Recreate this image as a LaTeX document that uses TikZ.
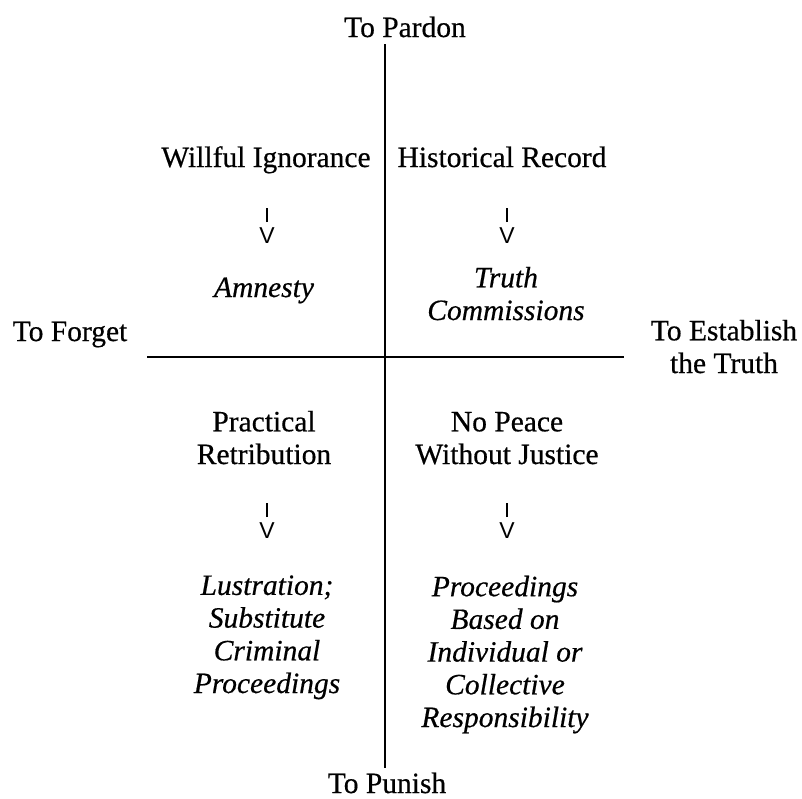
\documentclass[tikz,border=0pt]{standalone}
\usepackage{fontspec}
\setmainfont{Liberation Serif}[FakeBold=0.5]
\newfontfamily\glyphfont{Liberation Sans}
\newcommand{\dnarrow}{\vbox{\offinterlineskip\halign{\hfil##\hfil\cr\rule{1.3pt}{14pt}\cr\noalign{\vskip5pt}V\cr}}}
\tikzset{
  lbl/.style={font=\fontsize{29.5}{32.7}\selectfont, inner sep=0pt, align=center, anchor=base},
  res/.style={lbl, font=\fontsize{29.5}{32.7}\selectfont\itshape},
  arr/.style={font=\glyphfont\fontsize{23}{23}\selectfont, inner sep=0pt, anchor=base},
  axisline/.style={line width=1.3pt, black},
}
\begin{document}
\begin{tikzpicture}[x=1pt, y=-1pt]
\useasboundingbox (0,0) rectangle (802,798);
% axes
\coordinate (vtop) at (385,44);
\coordinate (vbot) at (385,768);
\coordinate (hleft) at (147,357);
\coordinate (hright) at (624,357);
\draw[axisline] (vtop) -- (vbot);
\draw[axisline] (hleft) -- (hright);
% pole labels (base = baseline of last line)
\node[lbl] (pardon) at (405,37) {To Pardon};
\node[lbl] (punish) at (387,793) {To Punish};
\node[lbl] (forget) at (70,341) {To Forget};
\node[lbl] (establish) at (724,373) {To Establish\\the Truth};
% upper quadrants
\node[lbl] (wi) at (266,167) {Willful Ignorance};
\node[lbl] (hr) at (502,167) {Historical Record};
\node[arr] (a1) at (267,243) {\dnarrow};
\node[arr] (a2) at (507,243) {\dnarrow};
\node[res] (amn) at (264,297) {Amnesty};
\node[res] (tc) at (506,320) {Truth\\Commissions};
% lower quadrants
\node[lbl] (pr) at (264,464) {Practical\\Retribution};
\node[lbl] (np) at (507,464) {No Peace\\Without Justice};
\node[arr] (a3) at (267,538) {\dnarrow};
\node[arr] (a4) at (507,538) {\dnarrow};
\node[res] (lus) at (267,693) {Lustration;\\Substitute\\Criminal\\Proceedings};
\node[res] (pro) at (505,727) {Proceedings\\Based on\\Individual or\\Collective\\Responsibility};
\end{tikzpicture}
\end{document}
